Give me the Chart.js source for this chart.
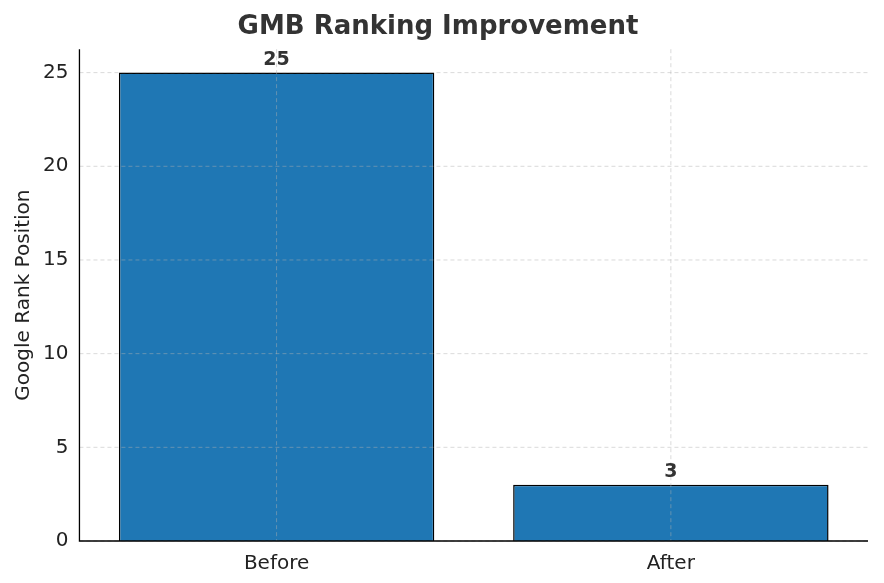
<!DOCTYPE html>
<html><head><meta charset="utf-8">
<script src="https://cdn.jsdelivr.net/npm/chart.js@4"></script>
<style>html,body{margin:0;padding:0;background:#fff}#w{width:884px;height:583px}</style>
</head><body><div id="w"><canvas id="c"></canvas></div>
<script>
const categories = ["Before", "After"];
const rankValues = [25, 3];
const yTicks = [0, 5, 10, 15, 20, 25];
const font = "'DejaVu Sans', sans-serif";

const overlay = {
  id: 'overlay',
  afterDatasetsDraw(chart) {
    const {ctx, chartArea: a, scales: {x, y}} = chart;
    ctx.save();
    ctx.strokeStyle = 'rgba(176,176,176,0.6)';
    ctx.lineWidth = 0.8;
    ctx.setLineDash([4, 3]);
    yTicks.forEach(v => { const p = y.getPixelForValue(v); ctx.beginPath(); ctx.moveTo(a.left, p); ctx.lineTo(a.right, p); ctx.stroke(); });
    categories.forEach((c, i) => { const p = x.getPixelForValue(i); ctx.beginPath(); ctx.moveTo(p, a.top); ctx.lineTo(p, a.bottom); ctx.stroke(); });
    ctx.setLineDash([]);
    ctx.strokeStyle = '#000'; ctx.lineWidth = 1.3;
    ctx.beginPath(); ctx.moveTo(a.left, a.top); ctx.lineTo(a.left, a.bottom); ctx.lineTo(a.right, a.bottom); ctx.stroke();
    ctx.fillStyle = '#333'; ctx.font = "bold 19px " + font; ctx.textAlign = 'center'; ctx.textBaseline = 'bottom';
    chart.getDatasetMeta(0).data.forEach((b, i) => ctx.fillText(String(rankValues[i]), b.x, b.y - 3));
    ctx.restore();
  }
};

new Chart(document.getElementById('c'), {
  type: 'bar',
  data: { labels: categories, datasets: [{ data: rankValues, backgroundColor: '#1f77b4', borderColor: '#000', borderWidth: 1.5, barPercentage: 0.8, categoryPercentage: 1 }] },
  options: {
    responsive: true, maintainAspectRatio: false, animation: false,
    layout: { padding: { top: 4, right: 16, bottom: 4, left: 8 } },
    plugins: {
      legend: { display: false }, tooltip: { enabled: false },
      title: { display: true, text: 'GMB Ranking Improvement', color: '#333', font: { family: font, size: 26, weight: 'bold' }, padding: { top: 8, bottom: 6 } }
    },
    scales: {
      x: { grid: { display: false }, border: { display: false }, ticks: { color: '#222', font: { family: font, size: 20 } } },
      y: { min: 0, max: 26.25, grid: { display: false }, border: { display: false },
        afterBuildTicks: s => { s.ticks = yTicks.map(v => ({ value: v })); },
        ticks: { color: '#222', font: { family: font, size: 20 } },
        title: { display: true, text: 'Google Rank Position', color: '#222', font: { family: font, size: 20 } } }
    }
  },
  plugins: [overlay]
});
</script></body></html>
